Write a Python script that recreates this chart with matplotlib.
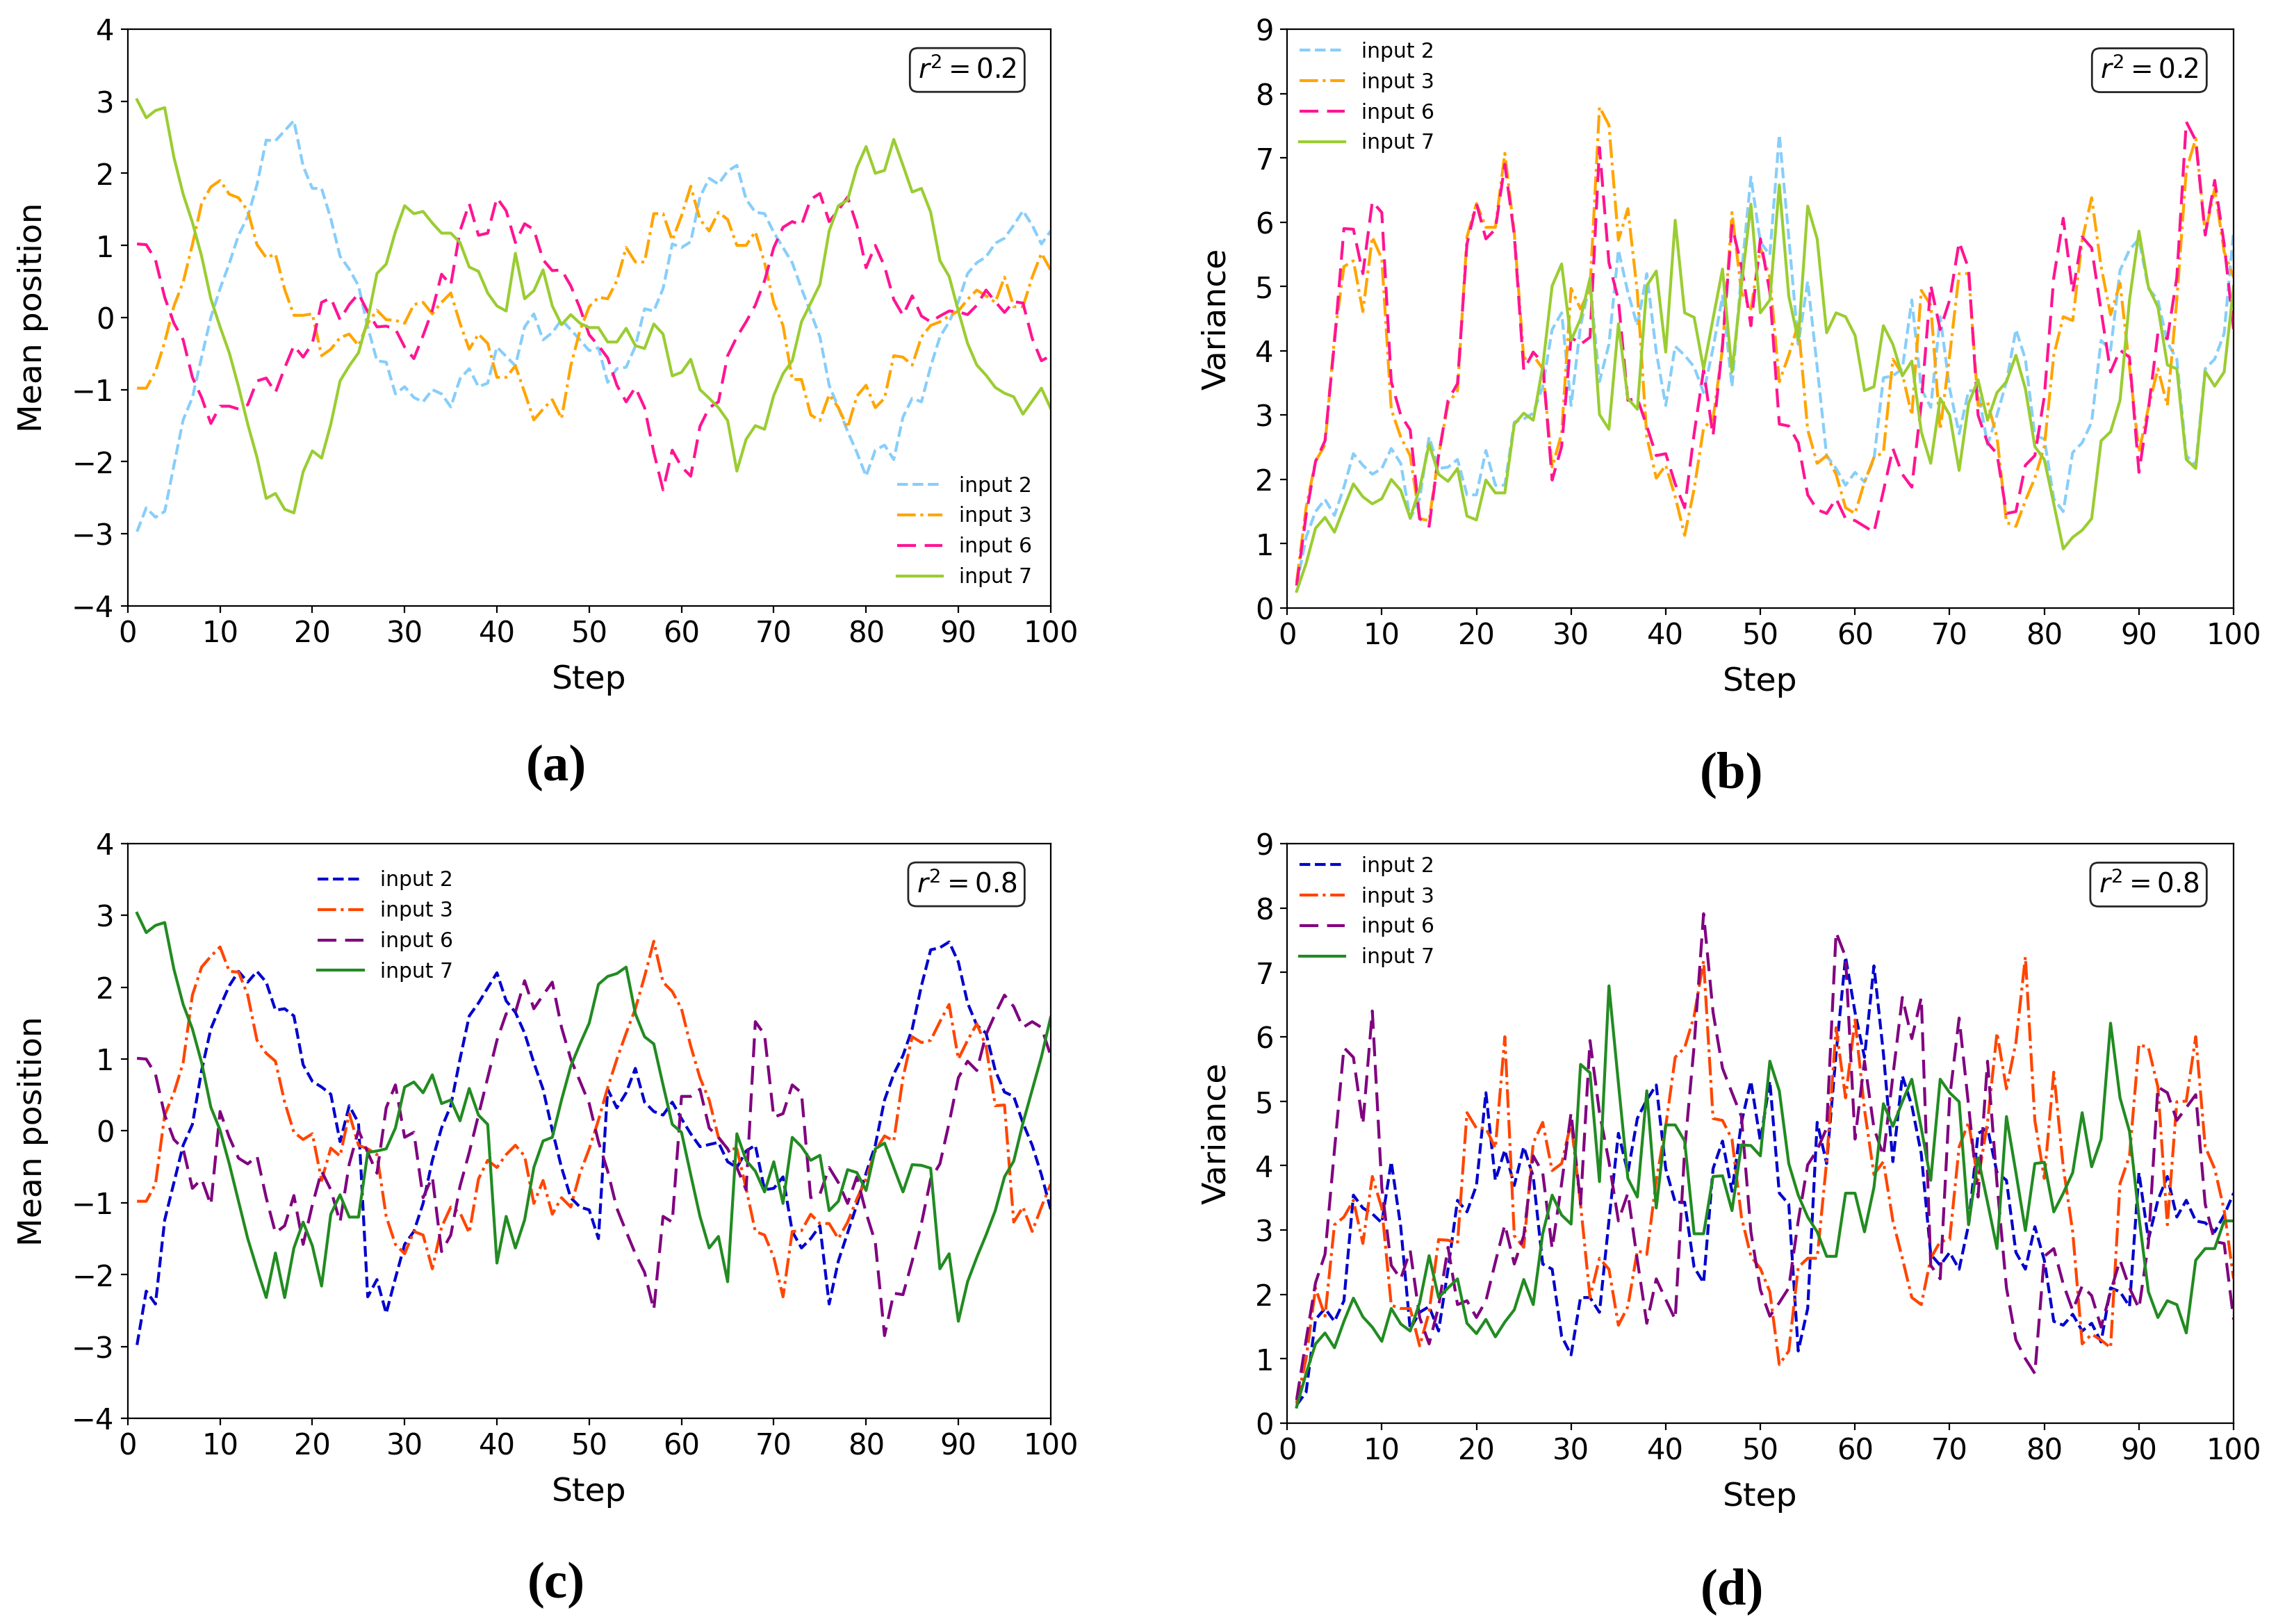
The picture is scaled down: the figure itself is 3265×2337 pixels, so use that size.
import matplotlib
matplotlib.use('Agg')
import matplotlib.pyplot as plt

# x values: simulation step
steps = list(range(1, 101))

# ---- panel (a): mean position, r^2 = 0.2 ----
a_input2 = [-2.97, -2.64, -2.77, -2.69, -2.05, -1.42, -1.11, -0.55, 0.00, 0.40,
            0.75, 1.14, 1.40, 1.84, 2.46, 2.45, 2.59, 2.73, 2.10, 1.79,
            1.79, 1.37, 0.85, 0.67, 0.44, -0.13, -0.60, -0.62, -1.06, -0.96,
            -1.11, -1.17, -1.00, -1.06, -1.24, -0.85, -0.71, -0.96, -0.91, -0.41,
            -0.54, -0.67, -0.13, 0.05, -0.31, -0.21, -0.03, -0.17, -0.31, -0.46,
            -0.42, -0.90, -0.71, -0.69, -0.40, 0.12, 0.09, 0.40, 1.02, 0.97,
            1.05, 1.67, 1.93, 1.85, 2.03, 2.11, 1.64, 1.46, 1.44, 1.18,
            0.97, 0.76, 0.40, 0.07, -0.27, -0.94, -1.25, -1.58, -1.87, -2.20,
            -1.84, -1.77, -1.97, -1.38, -1.12, -1.17, -0.68, -0.27, -0.06, 0.22,
            0.61, 0.76, 0.84, 1.03, 1.10, 1.28, 1.48, 1.28, 1.02, 1.20]
a_input3 = [-0.98, -0.98, -0.75, -0.34, 0.16, 0.49, 1.01, 1.58, 1.81, 1.90,
            1.71, 1.66, 1.48, 1.01, 0.83, 0.88, 0.39, 0.03, 0.03, 0.05,
            -0.53, -0.44, -0.28, -0.23, -0.39, -0.08, 0.10, -0.03, -0.04, -0.08,
            0.18, 0.21, 0.05, 0.21, 0.34, -0.08, -0.44, -0.23, -0.36, -0.83,
            -0.83, -0.67, -1.04, -1.42, -1.27, -1.14, -1.40, -0.67, -0.18, 0.15,
            0.28, 0.26, 0.51, 0.97, 0.77, 0.77, 1.44, 1.44, 1.07, 1.41,
            1.82, 1.36, 1.20, 1.46, 1.36, 1.00, 1.00, 1.19, 0.76, 0.20,
            -0.11, -0.86, -0.86, -1.35, -1.43, -1.07, -1.25, -1.53, -1.09, -0.94,
            -1.25, -1.12, -0.53, -0.55, -0.66, -0.27, -0.11, -0.06, 0.02, 0.09,
            0.25, 0.38, 0.30, 0.21, 0.56, 0.15, 0.15, 0.56, 0.89, 0.66]
a_input6 = [1.02, 1.01, 0.80, 0.28, -0.08, -0.31, -0.83, -1.11, -1.47, -1.23,
            -1.23, -1.27, -1.21, -0.88, -0.84, -1.04, -0.70, -0.39, -0.55, -0.36,
            0.21, 0.27, -0.03, 0.18, 0.33, 0.08, -0.13, -0.12, -0.16, -0.41,
            -0.57, -0.25, 0.10, 0.60, 0.45, 1.20, 1.58, 1.14, 1.17, 1.66,
            1.48, 1.04, 1.30, 1.22, 0.80, 0.65, 0.66, 0.44, 0.13, -0.24,
            -0.39, -0.56, -0.94, -1.17, -0.97, -1.25, -1.87, -2.39, -1.84, -2.07,
            -2.20, -1.51, -1.25, -1.17, -0.53, -0.27, -0.06, 0.17, 0.51, 0.97,
            1.25, 1.33, 1.28, 1.64, 1.72, 1.33, 1.49, 1.67, 1.28, 0.69,
            1.00, 0.71, 0.25, 0.03, 0.30, 0.02, -0.06, 0.02, 0.09, 0.08,
            0.04, 0.17, 0.38, 0.22, 0.07, 0.22, 0.20, -0.29, -0.60, -0.53]
a_input7 = [3.02, 2.77, 2.87, 2.91, 2.22, 1.71, 1.32, 0.85, 0.26, -0.13,
            -0.49, -0.96, -1.48, -1.94, -2.51, -2.44, -2.66, -2.71, -2.14, -1.85,
            -1.95, -1.48, -0.88, -0.67, -0.49, -0.03, 0.61, 0.74, 1.19, 1.55,
            1.44, 1.47, 1.31, 1.17, 1.17, 1.04, 0.70, 0.64, 0.34, 0.16,
            0.09, 0.89, 0.26, 0.37, 0.66, 0.16, -0.10, 0.04, -0.08, -0.14,
            -0.14, -0.34, -0.34, -0.15, -0.39, -0.43, -0.09, -0.23, -0.81, -0.76,
            -0.58, -1.00, -1.12, -1.25, -1.43, -2.13, -1.69, -1.50, -1.55, -1.08,
            -0.78, -0.60, -0.06, 0.20, 0.46, 1.20, 1.55, 1.63, 2.08, 2.37,
            2.00, 2.04, 2.47, 2.11, 1.74, 1.79, 1.46, 0.79, 0.57, 0.09,
            -0.36, -0.66, -0.80, -0.97, -1.05, -1.10, -1.34, -1.16, -0.98, -1.26]

# ---- panel (b): variance, r^2 = 0.2 ----
b_input2 = [0.35, 1.10, 1.50, 1.69, 1.44, 1.88, 2.40, 2.22, 2.08, 2.17,
            2.48, 2.25, 1.39, 1.70, 2.66, 2.17, 2.19, 2.31, 1.76, 1.76,
            2.45, 1.91, 1.91, 2.89, 2.94, 3.03, 3.44, 4.33, 4.59, 3.15,
            4.39, 5.05, 3.52, 4.10, 5.57, 4.91, 4.39, 5.20, 3.98, 3.15,
            4.07, 3.93, 3.75, 3.35, 4.04, 4.85, 3.44, 5.20, 6.70, 5.69,
            5.49, 7.36, 5.77, 4.10, 5.08, 3.75, 2.37, 2.17, 1.91, 2.11,
            1.96, 2.31, 3.58, 3.61, 3.72, 4.79, 3.41, 3.12, 4.53, 3.41,
            2.71, 3.38, 3.38, 2.54, 3.00, 3.52, 4.33, 3.87, 2.68, 2.63,
            1.70, 1.50, 2.42, 2.57, 2.89, 4.16, 4.01, 5.25, 5.57, 5.74,
            4.97, 4.79, 4.13, 3.87, 2.37, 2.22, 3.72, 3.87, 4.27, 5.86]
b_input3 = [0.40, 1.56, 2.28, 2.54, 4.21, 5.31, 5.40, 4.61, 5.77, 5.43,
            3.09, 2.66, 2.37, 1.39, 1.36, 2.37, 3.18, 3.38, 5.77, 6.29,
            5.92, 5.92, 7.07, 5.83, 3.87, 3.93, 3.72, 2.19, 2.71, 4.97,
            4.65, 4.97, 7.79, 7.51, 5.72, 6.21, 4.91, 2.66, 2.02, 2.22,
            1.73, 1.13, 1.85, 2.80, 2.94, 4.04, 6.15, 4.91, 4.65, 5.60,
            5.14, 3.52, 3.93, 4.42, 2.77, 2.25, 2.37, 2.08, 1.56, 1.47,
            1.96, 2.34, 2.42, 3.87, 3.64, 3.00, 4.94, 4.71, 2.77, 3.93,
            5.20, 5.20, 3.15, 3.20, 2.66, 1.33, 1.27, 1.67, 2.02, 2.51,
            3.93, 4.53, 4.47, 5.72, 6.38, 5.31, 4.56, 5.05, 3.75, 2.42,
            3.12, 3.72, 3.15, 4.79, 6.81, 7.30, 5.83, 6.52, 5.54, 5.14]
b_input6 = [0.35, 1.44, 2.28, 2.60, 4.13, 5.90, 5.89, 5.20, 6.32, 6.15,
            3.52, 3.00, 2.77, 1.39, 1.27, 2.37, 3.23, 3.49, 5.66, 6.29,
            5.74, 5.89, 6.90, 5.80, 3.70, 3.98, 3.81, 1.99, 2.51, 4.21,
            4.10, 4.21, 7.16, 5.37, 4.79, 3.23, 3.26, 2.83, 2.37, 2.40,
            1.93, 1.56, 2.71, 3.70, 2.68, 4.10, 5.95, 5.31, 4.39, 5.74,
            4.91, 2.86, 2.83, 2.57, 1.76, 1.53, 1.47, 1.70, 1.39, 1.36,
            1.27, 1.18, 1.82, 2.48, 2.08, 1.88, 3.18, 5.02, 4.33, 4.79,
            5.69, 5.28, 3.00, 2.57, 2.40, 1.47, 1.50, 2.22, 2.37, 3.29,
            5.14, 6.06, 4.91, 5.77, 5.60, 4.62, 3.67, 4.01, 3.90, 2.11,
            3.09, 4.27, 4.19, 5.14, 7.56, 7.27, 5.80, 6.65, 5.66, 4.33]
b_input7 = [0.26, 0.69, 1.24, 1.41, 1.18, 1.56, 1.93, 1.73, 1.62, 1.70,
            2.00, 1.83, 1.40, 1.86, 2.55, 2.08, 1.97, 2.17, 1.43, 1.37,
            1.99, 1.79, 1.79, 2.86, 3.03, 2.92, 3.75, 5.01, 5.35, 4.16,
            4.50, 5.13, 3.01, 2.78, 4.42, 3.26, 3.09, 5.01, 5.24, 3.98,
            6.03, 4.59, 4.52, 3.72, 4.50, 5.27, 3.67, 5.02, 6.28, 4.59,
            4.79, 6.58, 4.85, 4.16, 6.25, 5.74, 4.28, 4.59, 4.53, 4.24,
            3.38, 3.44, 4.39, 4.10, 3.61, 3.84, 2.74, 2.25, 3.26, 3.00,
            2.14, 3.18, 3.55, 2.92, 3.35, 3.52, 3.93, 3.41, 2.51, 2.31,
            1.62, 0.92, 1.10, 1.21, 1.39, 2.60, 2.74, 3.23, 4.79, 5.86,
            4.99, 4.68, 3.78, 3.72, 2.31, 2.17, 3.68, 3.45, 3.67, 5.00]

# ---- panel (c): mean position, r^2 = 0.8 ----
c_input2 = [-2.98, -2.23, -2.41, -1.24, -0.72, -0.20, 0.09, 0.84, 1.42, 1.73,
            2.02, 2.22, 2.07, 2.22, 2.07, 1.68, 1.70, 1.60, 0.92, 0.69,
            0.61, 0.51, -0.15, 0.35, 0.11, -2.31, -2.07, -2.54, -2.05, -1.58,
            -1.40, -1.01, -0.41, 0.04, 0.35, 1.00, 1.60, 1.78, 1.99, 2.20,
            1.81, 1.65, 1.36, 0.95, 0.58, 0.01, -0.51, -0.93, -1.06, -1.10,
            -1.50, 0.58, 0.32, 0.53, 0.87, 0.40, 0.27, 0.22, 0.40, 0.17,
            -0.04, -0.22, -0.19, -0.16, -0.43, -0.51, -0.28, -0.20, -0.82, -0.80,
            -0.64, -1.40, -1.63, -1.50, -1.32, -2.41, -1.81, -1.42, -1.03, -0.59,
            -0.20, 0.43, 0.79, 1.05, 1.42, 2.02, 2.52, 2.55, 2.63, 2.35,
            1.78, 1.47, 1.36, 0.84, 0.54, 0.48, 0.11, -0.20, -0.61, -1.09]
c_input3 = [-0.98, -0.98, -0.74, 0.22, 0.53, 0.95, 1.89, 2.28, 2.43, 2.56,
            2.22, 2.21, 1.89, 1.26, 1.08, 0.97, 0.40, -0.02, -0.12, -0.04,
            -0.69, -0.24, -0.35, 0.24, -0.20, -0.25, -0.33, -1.19, -1.58, -1.71,
            -1.40, -1.45, -1.92, -1.34, -1.06, -1.14, -1.42, -0.67, -0.41, -0.51,
            -0.33, -0.20, -0.35, -1.01, -0.69, -1.16, -0.93, -1.06, -0.59, -0.25,
            0.15, 0.60, 1.00, 1.36, 1.70, 2.15, 2.64, 2.07, 1.94, 1.70,
            1.18, 0.74, 0.43, -0.09, -0.25, -0.25, -0.80, -1.40, -1.45, -1.76,
            -2.31, -1.40, -1.39, -1.16, -1.29, -1.29, -1.50, -1.27, -0.95, -0.67,
            -0.28, -0.07, -0.14, 0.74, 1.31, 1.23, 1.26, 1.52, 1.76, 1.00,
            1.26, 1.49, 1.18, 0.35, 0.36, -1.27, -1.06, -1.40, -1.06, -0.74]
c_input6 = [1.01, 1.00, 0.79, 0.22, -0.12, -0.25, -0.80, -0.67, -1.03, 0.27,
            -0.09, -0.38, -0.46, -0.35, -0.93, -1.42, -1.32, -0.90, -1.58, -1.03,
            -0.56, -0.82, -1.27, -0.46, 0.01, -0.30, -0.59, 0.32, 0.64, -0.09,
            -0.02, -0.93, -0.64, -1.68, -1.45, -0.77, -0.30, 0.22, 0.74, 1.26,
            1.63, 1.65, 2.09, 1.70, 1.89, 2.07, 1.44, 1.00, 0.69, 0.38,
            -0.15, -0.56, -1.08, -1.40, -1.71, -1.97, -2.49, -1.19, -1.27, 0.48,
            0.48, 0.58, 0.04, -0.09, -0.25, -0.51, -0.82, 1.52, 1.34, 0.19,
            0.24, 0.64, 0.53, -0.93, -0.88, -0.51, -0.72, -1.01, -0.64, -1.14,
            -1.55, -2.85, -2.26, -2.28, -1.81, -1.29, -0.67, -0.46, 0.11, 0.74,
            0.97, 0.84, 1.34, 1.63, 1.89, 1.73, 1.44, 1.52, 1.44, 1.05]
c_input7 = [3.03, 2.76, 2.86, 2.90, 2.25, 1.76, 1.42, 0.95, 0.33, 0.01,
            -0.46, -0.98, -1.50, -1.92, -2.32, -1.70, -2.32, -1.63, -1.27, -1.60,
            -2.16, -1.16, -0.89, -1.20, -1.20, -0.30, -0.28, -0.25, 0.04, 0.61,
            0.68, 0.53, 0.78, 0.38, 0.43, 0.14, 0.59, 0.22, 0.09, -1.84,
            -1.19, -1.63, -1.24, -0.51, -0.14, -0.09, 0.43, 0.90, 1.21, 1.50,
            2.04, 2.15, 2.19, 2.28, 1.63, 1.31, 1.21, 0.64, 0.09, -0.02,
            -0.61, -1.19, -1.63, -1.47, -2.10, -0.04, -0.41, -0.56, -0.85, -0.43,
            -1.01, -0.09, -0.22, -0.41, -0.34, -1.11, -0.98, -0.54, -0.58, -0.83,
            -0.25, -0.17, -0.51, -0.85, -0.47, -0.48, -0.52, -1.92, -1.71, -2.65,
            -2.10, -1.76, -1.45, -1.11, -0.64, -0.42, 0.11, 0.57, 1.03, 1.58]

# ---- panel (d): variance, r^2 = 0.8 ----
d_input2 = [0.28, 0.48, 1.61, 1.78, 1.58, 1.90, 3.54, 3.34, 3.25, 3.11,
            4.06, 3.05, 1.46, 1.72, 1.81, 1.43, 2.39, 3.46, 3.28, 3.69,
            5.13, 3.77, 4.24, 3.69, 4.29, 3.83, 2.47, 2.39, 1.35, 1.06,
            1.95, 1.95, 1.72, 3.14, 4.50, 3.89, 4.73, 5.02, 5.25, 3.95,
            3.43, 3.43, 2.42, 2.18, 3.95, 4.38, 3.60, 4.67, 5.31, 4.38,
            5.31, 3.57, 3.40, 1.12, 1.78, 4.67, 4.03, 5.74, 7.24, 6.38,
            5.68, 7.10, 5.74, 4.06, 5.39, 4.93, 4.18, 2.62, 2.45, 2.65,
            2.39, 3.08, 4.50, 4.58, 3.89, 3.77, 2.65, 2.39, 3.05, 2.53,
            1.58, 1.52, 1.69, 1.43, 1.55, 1.26, 2.10, 2.04, 1.81, 3.89,
            2.85, 3.46, 3.83, 3.20, 3.46, 3.14, 3.11, 2.97, 3.23, 3.57]
d_input3 = [0.31, 1.00, 2.10, 1.66, 3.08, 3.20, 3.46, 2.79, 3.83, 3.34,
            1.83, 1.78, 1.78, 1.20, 1.72, 2.85, 2.84, 2.79, 4.82, 4.58,
            4.58, 4.27, 6.00, 2.91, 2.73, 4.35, 4.67, 3.92, 4.03, 4.67,
            3.40, 1.95, 2.56, 2.39, 1.52, 1.81, 2.68, 2.62, 3.77, 4.61,
            5.68, 5.83, 6.32, 7.18, 4.73, 4.70, 4.41, 3.20, 2.59, 2.40,
            2.04, 0.91, 1.12, 2.42, 2.56, 2.56, 4.06, 6.14, 5.05, 6.26,
            4.87, 3.86, 4.06, 3.14, 2.56, 1.95, 1.84, 2.56, 2.82, 2.85,
            4.29, 4.67, 3.77, 4.67, 6.06, 5.19, 5.91, 7.24, 4.70, 3.80,
            5.45, 3.98, 2.97, 1.23, 1.38, 1.29, 1.17, 3.72, 4.15, 5.88,
            5.83, 5.22, 3.08, 4.99, 5.00, 6.00, 4.29, 3.95, 3.31, 2.24]
d_input6 = [0.36, 1.29, 2.18, 2.62, 4.24, 5.83, 5.68, 4.64, 6.40, 3.66,
            2.45, 2.24, 2.68, 1.64, 1.23, 1.81, 2.73, 1.84, 1.90, 1.64,
            1.90, 2.50, 3.08, 2.47, 2.91, 4.15, 3.89, 2.71, 3.72, 4.82,
            3.40, 5.94, 4.82, 4.06, 3.14, 3.57, 2.53, 1.55, 2.24, 1.92,
            1.61, 4.24, 5.86, 7.91, 6.38, 5.51, 5.13, 4.76, 2.97, 2.07,
            1.66, 1.87, 2.10, 3.14, 4.01, 4.24, 4.58, 7.62, 7.24, 4.41,
            5.62, 4.58, 4.15, 5.39, 6.61, 5.97, 6.61, 2.45, 2.24, 5.05,
            6.29, 4.93, 3.51, 5.62, 3.72, 2.10, 1.29, 1.00, 0.77, 2.59,
            2.71, 2.16, 1.75, 2.13, 1.98, 1.49, 2.04, 2.53, 2.10, 1.78,
            2.79, 5.22, 5.13, 4.70, 4.90, 5.10, 3.40, 2.82, 2.79, 1.61]
d_input7 = [0.25, 0.77, 1.23, 1.40, 1.17, 1.58, 1.94, 1.65, 1.49, 1.27,
            1.78, 1.54, 1.43, 1.87, 2.60, 1.95, 2.10, 2.24, 1.55, 1.39,
            1.61, 1.34, 1.57, 1.76, 2.23, 1.84, 2.94, 3.54, 3.23, 3.09,
            5.57, 5.44, 3.75, 6.79, 5.28, 3.80, 3.51, 5.16, 3.34, 4.63,
            4.63, 4.38, 2.94, 2.94, 3.83, 3.84, 3.30, 4.32, 4.31, 4.15,
            5.62, 5.16, 4.03, 3.54, 3.20, 2.97, 2.59, 2.59, 3.57, 3.57,
            2.97, 3.66, 4.96, 4.61, 4.99, 5.34, 4.58, 3.77, 5.34, 5.13,
            4.99, 3.08, 4.12, 3.43, 2.71, 4.76, 3.89, 2.99, 4.03, 4.05,
            3.28, 3.57, 3.89, 4.82, 3.98, 4.41, 6.21, 5.05, 4.53, 3.20,
            2.04, 1.64, 1.90, 1.84, 1.40, 2.53, 2.71, 2.71, 3.14, 3.14]

labels = ['input 2', 'input 3', 'input 6', 'input 7']

# line styles per input (same in every panel)
styles = ['--', '-.', (0, (6.5, 3.0)), '-']
light_colors = ['lightskyblue', 'orange', 'deeppink', 'yellowgreen']
dark_colors = ['mediumblue', 'orangered', 'purple', 'forestgreen']


def draw_panel(ax, series, colors, ylabel, ylim, r2, legend_kw):
    for vals, lab, col, ls in zip(series, labels, colors, styles):
        ax.plot(steps, vals, color=col, linestyle=ls, lw=1.5, label=lab)
    ax.set_xlim(0, 100)
    ax.set_ylim(*ylim)
    ax.set_xticks(range(0, 101, 10))
    ax.set_yticks(range(ylim[0], ylim[1] + 1))
    ax.tick_params(labelsize=15)
    ax.set_xlabel('Step', fontsize=17, labelpad=8)
    ax.set_ylabel(ylabel, fontsize=17, labelpad=12)
    ax.legend(frameon=False, fontsize=10.7, handlelength=2.2, **legend_kw)
    ax.text(0.963, 0.953, r'$r^2 = %s$' % r2, transform=ax.transAxes,
            ha='right', va='top', fontsize=14,
            bbox=dict(boxstyle='round,pad=0.3', fc='white', ec='0.15', lw=1.0))


fig = plt.figure(figsize=(16.33, 11.685), dpi=200)

ax_a = fig.add_axes([0.0563, 0.6269, 0.4066, 0.3552])
ax_b = fig.add_axes([0.5671, 0.6256, 0.4170, 0.3564])
ax_c = fig.add_axes([0.0563, 0.1267, 0.4066, 0.3539])
ax_d = fig.add_axes([0.5671, 0.1237, 0.4170, 0.3569])

draw_panel(ax_a, [a_input2, a_input3, a_input6, a_input7], light_colors,
           'Mean position', (-4, 4), '0.2', dict(loc='lower right'))
draw_panel(ax_b, [b_input2, b_input3, b_input6, b_input7], light_colors,
           'Variance', (0, 9), '0.2', dict(loc='upper left', borderaxespad=0.2))
draw_panel(ax_c, [c_input2, c_input3, c_input6, c_input7], dark_colors,
           'Mean position', (-4, 4), '0.8',
           dict(loc='upper left', bbox_to_anchor=(0.197, 0.968), borderaxespad=0))
draw_panel(ax_d, [d_input2, d_input3, d_input6, d_input7], dark_colors,
           'Variance', (0, 9), '0.8', dict(loc='upper left', borderaxespad=0.2))

# panel letters under each plot
letter_font = dict(family='Liberation Serif', weight='bold', fontsize=27,
                   ha='center', va='center')
fig.text(0.245, 0.527, '(a)', **letter_font)
fig.text(0.763, 0.523, '(b)', **letter_font)
fig.text(0.245, 0.024, '(c)', **letter_font)
fig.text(0.763, 0.020, '(d)', **letter_font)

fig.savefig('out.png', dpi=200)
